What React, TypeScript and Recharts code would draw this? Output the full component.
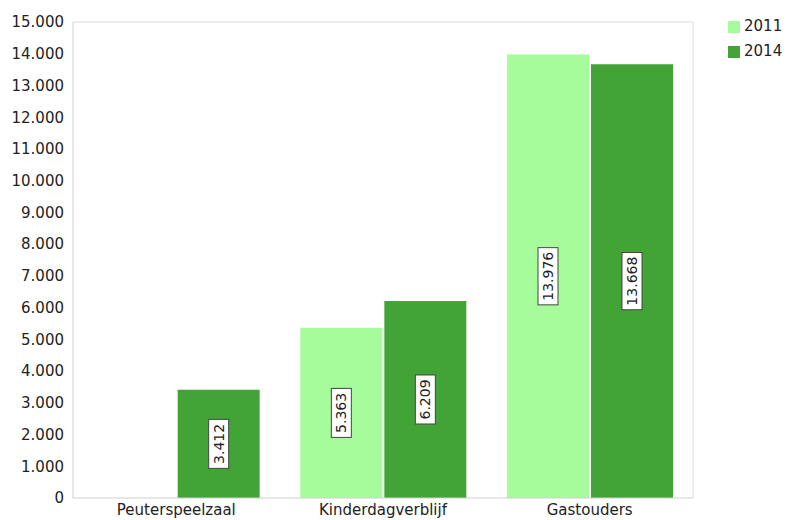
import { Bar, BarChart, LabelList, Legend, XAxis, YAxis } from "recharts";

const categories = ["Peuterspeelzaal", "Kinderdagverblijf", "Gastouders"];
const values2011: (number | null)[] = [null, 5363, 13976];
const values2014: (number | null)[] = [3412, 6209, 13668];
const yTicks = [0, 1000, 2000, 3000, 4000, 5000, 6000, 7000, 8000, 9000, 10000, 11000, 12000, 13000, 14000, 15000];

const light = "#a6fb9a";
const dark = "#42a337";
const font = "'DejaVu Sans', sans-serif";

const data = categories.map((name, i) => ({
  name,
  y2011: values2011[i],
  y2014: values2014[i]
}));

const fmt = (v: number) => String(v).replace(/\B(?=(\d{3})+(?!\d))/g, ".");

function BoxLabel(props: any) {
  const { x, y, width, height, value } = props;
  if (value == null || value === 0) return null;
  const cx = x + width / 2;
  const cy = y + height / 2;
  const text = fmt(value);
  const w = text.length * 8.2 + 8;
  const h = 20;
  return (
    <g transform={`translate(${cx},${cy}) rotate(-90)`}>
      <rect x={-w / 2} y={-h / 2} width={w} height={h} fill="#fff" stroke="#444" strokeWidth={1} />
      <text x={0} y={0} dy="0.36em" textAnchor="middle" fontSize={14} fontFamily={font} fill="#222">
        {text}
      </text>
    </g>
  );
}

export default function App() {
  return (
    <div style={{ position: "absolute", left: 0, top: 0, width: 790, height: 520, background: "#fff" }}>
      <BarChart
        width={790}
        height={520}
        data={data}
        margin={{ top: 21, right: 26, bottom: 0, left: 0 }}
        barCategoryGap="10%"
        barGap={2}
      >
        <XAxis
          dataKey="name"
          axisLine={{ stroke: "#cfcfcf" }}
          tickLine={false}
          tickSize={4}
          height={22}
          tick={{ fontSize: 15, fill: "#222", fontFamily: font }}
        />
        <XAxis xAxisId="top" orientation="top" dataKey="name" axisLine={{ stroke: "#dcdcdc" }} tick={false} tickLine={false} height={1} />
        <YAxis
          domain={[0, 15000]}
          ticks={yTicks}
          interval={0}
          axisLine={{ stroke: "#cfcfcf" }}
          tickLine={false}
          tickSize={6}
          tickMargin={3}
          width={73}
          tickFormatter={(v) => fmt(v)}
          tick={{ fontSize: 15, fill: "#222", fontFamily: font }}
        />
        <YAxis yAxisId="right" orientation="right" axisLine={{ stroke: "#dcdcdc" }} tick={false} tickLine={false} width={1} />
        <Legend
          layout="vertical"
          align="right"
          verticalAlign="top"
          iconType="square"
          iconSize={12}
          wrapperStyle={{ top: 14, left: 728, width: 70, fontFamily: font, fontSize: 15, lineHeight: "25px" }}
          formatter={(value) => <span style={{ color: "#222" }}>{value}</span>}
        />
        <Bar dataKey="y2011" name="2011" fill={light} isAnimationActive={false}>
          <LabelList dataKey="y2011" content={<BoxLabel />} />
        </Bar>
        <Bar dataKey="y2014" name="2014" fill={dark} isAnimationActive={false}>
          <LabelList dataKey="y2014" content={<BoxLabel />} />
        </Bar>
      </BarChart>
    </div>
  );
}
